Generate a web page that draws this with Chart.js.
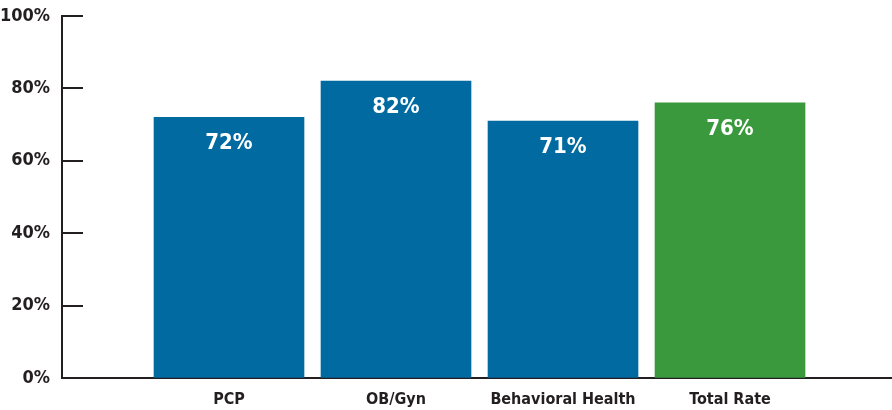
<!DOCTYPE html>
<html>
<head>
<meta charset="utf-8">
<script src="https://cdn.jsdelivr.net/npm/chart.js@4"></script>
<style>
  html, body { margin: 0; padding: 0; background: #fff; }
  #wrap { width: 892px; height: 410px; position: relative; }
</style>
</head>
<body>
<div id="wrap"><canvas id="grafico"></canvas></div>
<script>
// datos
const categorias = ['PCP', 'OB/Gyn', 'Behavioral Health', 'Total Rate']
const valores = [72, 82, 71, 76]
const colores = ['#006aa1', '#006aa1', '#006aa1', '#3b993d']
const ticksY = [0, 20, 40, 60, 80, 100]

const FUENTE = "'DejaVu Sans Condensed', 'Liberation Sans Narrow', sans-serif"
const TINTA = '#231f20'

// marcas del eje Y dibujadas hacia adentro del area del grafico
const marcasY = {
  id: 'marcasY',
  afterDraw(chart) {
    const ctx = chart.ctx
    const y = chart.scales.y
    const x0 = chart.chartArea.left
    ctx.save()
    ctx.strokeStyle = TINTA
    ctx.lineWidth = 2
    ticksY.forEach(t => {
      if (t === 0) return
      const py = Math.round(y.getPixelForValue(t))
      ctx.beginPath()
      ctx.moveTo(x0, py)
      ctx.lineTo(x0 + 21, py)
      ctx.stroke()
    })
    ctx.restore()
  }
}

// etiquetas de valor dentro de cada barra
const etiquetas = {
  id: 'etiquetas',
  afterDatasetsDraw(chart) {
    const ctx = chart.ctx
    const meta = chart.getDatasetMeta(0)
    ctx.save()
    ctx.fillStyle = '#ffffff'
    ctx.font = "bold 22px " + FUENTE
    ctx.textAlign = 'center'
    ctx.textBaseline = 'middle'
    meta.data.forEach((barra, i) => {
      ctx.fillText(valores[i] + '%', barra.x, barra.y + 26)
    })
    ctx.restore()
  }
}

const config = {
  type: 'bar',
  data: {
    datasets: [{
      data: valores.map((v, i) => ({ x: i + 1, y: v })),
      backgroundColor: colores,
      borderWidth: 0,
      barThickness: 150
    }]
  },
  options: {
    responsive: true,
    maintainAspectRatio: false,
    animation: false,
    layout: { padding: { top: 16, right: 0, left: 0, bottom: 0 } },
    plugins: { legend: { display: false }, tooltip: { enabled: false } },
    scales: {
      x: {
        type: 'linear',
        min: 0,
        max: 4.97,
        offset: false,
        grid: { display: true, drawOnChartArea: false, drawTicks: false, offset: false },
        border: { display: true, color: TINTA, width: 2 },
        ticks: {
          stepSize: 1,
          includeBounds: false,
          autoSkip: false,
          maxRotation: 0,
          padding: 12,
          color: TINTA,
          font: { family: FUENTE, size: 16, weight: 'bold' },
          callback: v => categorias[v - 1] || ''
        },
        afterFit: s => { s.height = 32; s.paddingLeft = 0; s.paddingRight = 0 }
      },
      y: {
        min: 0,
        max: 100,
        grid: { display: true, drawOnChartArea: false, drawTicks: false },
        border: { display: true, color: TINTA, width: 2 },
        ticks: {
          stepSize: 20,
          padding: 12,
          color: TINTA,
          font: { family: FUENTE, size: 18, weight: 'bold' },
          callback: v => v + '%'
        },
        afterFit: s => { s.width = 62; s.paddingTop = 0; s.paddingBottom = 0 }
      }
    }
  },
  plugins: [marcasY, etiquetas]
}

new Chart(document.getElementById('grafico'), config)
</script>
</body>
</html>
